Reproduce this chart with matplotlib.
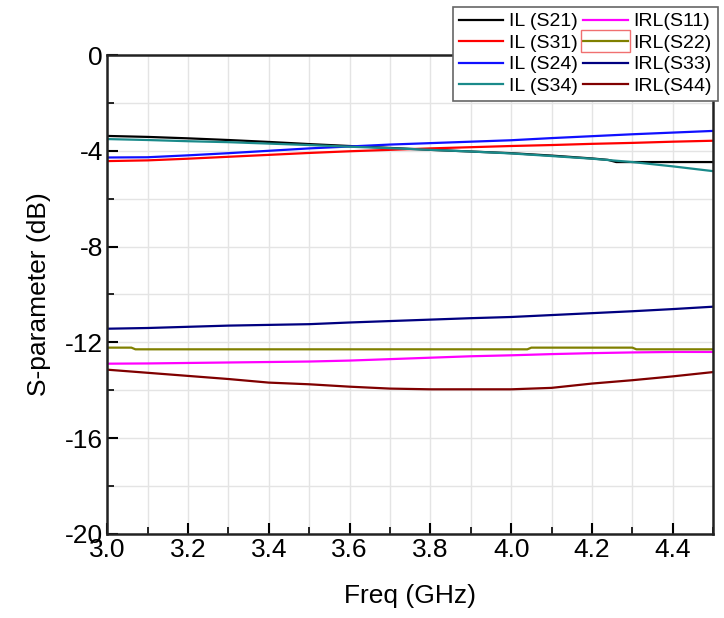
import numpy as np
import matplotlib.pyplot as plt
from matplotlib.ticker import MultipleLocator
from matplotlib.patches import Rectangle

plt.rcParams['font.family'] = ['Liberation Sans', 'DejaVu Sans']

freq = [3.0, 3.1, 3.2, 3.3, 3.4, 3.5, 3.6, 3.7, 3.8, 3.9, 4.0, 4.1, 4.2, 4.3, 4.4, 4.5]

s21_f = [3.0, 3.1, 3.2, 3.3, 3.4, 3.5, 3.6, 3.7, 3.8, 3.9, 4.0, 4.1, 4.2, 4.24, 4.26, 4.3, 4.4, 4.5]
s21 = [-3.38, -3.42, -3.48, -3.55, -3.63, -3.72, -3.80, -3.88, -3.96, -4.03, -4.10, -4.20, -4.32,
       -4.38, -4.47, -4.47, -4.47, -4.47]
s31 = [-4.43, -4.40, -4.33, -4.25, -4.17, -4.09, -4.02, -3.96, -3.90, -3.85, -3.80, -3.76, -3.71,
       -3.67, -3.62, -3.58]
s24 = [-4.28, -4.27, -4.19, -4.10, -4.00, -3.90, -3.82, -3.74, -3.68, -3.62, -3.56, -3.47, -3.39,
       -3.31, -3.24, -3.17]
s34 = [-3.51, -3.55, -3.60, -3.64, -3.70, -3.76, -3.83, -3.89, -3.96, -4.03, -4.11, -4.22, -4.33,
       -4.47, -4.65, -4.85]

s11 = [-12.89, -12.88, -12.86, -12.84, -12.82, -12.80, -12.76, -12.70, -12.64, -12.58, -12.54,
       -12.49, -12.45, -12.42, -12.40, -12.40]
s22_f = [3.0, 3.06, 3.07, 4.04, 4.05, 4.30, 4.31, 4.5]
s22 = [-12.22, -12.22, -12.29, -12.29, -12.22, -12.22, -12.29, -12.29]
s33 = [-11.43, -11.40, -11.35, -11.30, -11.27, -11.24, -11.17, -11.11, -11.05, -10.99, -10.94,
       -10.86, -10.78, -10.70, -10.61, -10.51]
s44 = [-13.14, -13.27, -13.40, -13.53, -13.68, -13.75, -13.85, -13.93, -13.96, -13.96, -13.96,
       -13.90, -13.72, -13.58, -13.42, -13.24]

fig = plt.figure(figsize=(7.24, 6.18), dpi=100)
ax = fig.add_axes([0.148, 0.136, 0.837, 0.775])

lw = 1.6
ax.plot(s21_f, s21, color='black', lw=lw, label='IL (S21)')
ax.plot(freq, s31, color='#ff0000', lw=lw, label='IL (S31)')
ax.plot(freq, s24, color='#1010ff', lw=lw, label='IL (S24)')
ax.plot(freq, s34, color='#1a8a8a', lw=lw, label='IL (S34)')
ax.plot(freq, s11, color='#ff00ff', lw=lw, label='IRL(S11)')
ax.plot(s22_f, s22, color='#808000', lw=lw, label='IRL(S22)')
ax.plot(freq, s33, color='#000080', lw=lw, label='IRL(S33)')
ax.plot(freq, s44, color='#800000', lw=lw, label='IRL(S44)')

ax.set_xlim(3.0, 4.5)
ax.set_ylim(-20, 0)
ax.xaxis.set_minor_locator(MultipleLocator(0.1))
ax.yaxis.set_major_locator(MultipleLocator(4))
ax.yaxis.set_minor_locator(MultipleLocator(2))
ax.set_xticks(np.arange(3.0, 4.41, 0.2))
ax.xaxis.set_major_formatter(plt.FormatStrFormatter('%.1f'))
ax.yaxis.set_major_formatter(plt.FormatStrFormatter('%d'))

ax.grid(True, which='both', color='#e4e4e4', lw=1.0)
ax.set_axisbelow(True)
ax.tick_params(which='major', direction='in', length=8, width=1.5, labelsize=19, pad=3)
ax.tick_params(which='minor', direction='in', length=5, width=1.2)
for sp in ax.spines.values():
    sp.set_linewidth(1.8)
    sp.set_color('#222222')

ax.set_xlabel('Freq (GHz)', fontsize=19, labelpad=16)
ax.set_ylabel('S-parameter (dB)', fontsize=19, labelpad=10)

leg = fig.legend(ncol=2, loc='upper right', bbox_to_anchor=(0.997, 0.995), fontsize=14,
                 handlelength=2.3, handletextpad=0.3, columnspacing=0.25, labelspacing=0.2,
                 borderpad=0.3, borderaxespad=0.2, fancybox=False, framealpha=1)
leg.get_frame().set_edgecolor('#666666')
leg.get_frame().set_linewidth(1.2)

# red selection box around the IRL(S22) handle
fig.canvas.draw()
bb = leg.legend_handles[5].get_window_extent().transformed(fig.transFigure.inverted())
fig.patches.append(Rectangle((bb.x0 - 0.003, bb.y0 - 0.018), bb.width + 0.006, 0.036,
                             transform=fig.transFigure, fill=False, edgecolor='#f07070',
                             lw=1.0, zorder=10))

fig.savefig('out.png', dpi=100)
